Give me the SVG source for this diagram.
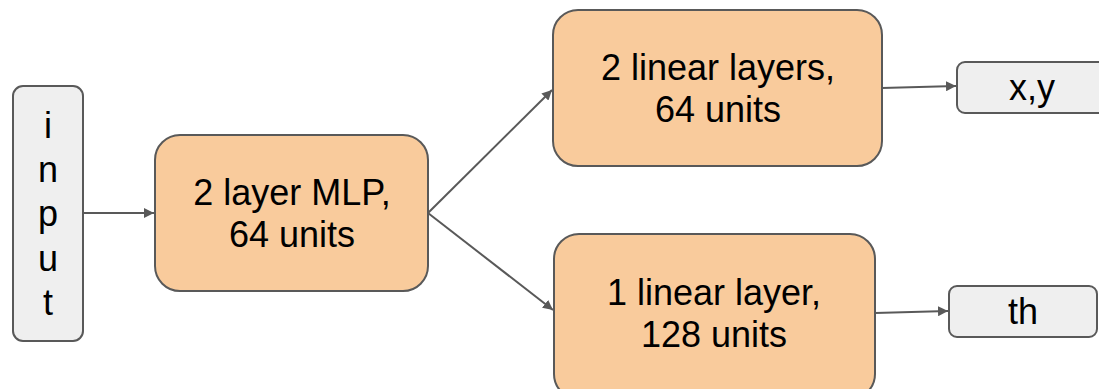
<svg xmlns="http://www.w3.org/2000/svg" width="1099" height="389" viewBox="0 0 1099 389">
  <style>
    .orange { fill: #f9cb9c; stroke: #595959; stroke-width: 2; }
    .grey { fill: #efefef; stroke: #595959; stroke-width: 2; }
    .label { font-family: "Liberation Sans", Arial, sans-serif; font-size: 36px; fill: #000; text-anchor: middle; }
    .edge { stroke: #595959; stroke-width: 2; fill: none; marker-end: url(#arrow); }
  </style>
  <defs>
    <marker id="arrow" viewBox="0 0 10 10" refX="10" refY="5" markerWidth="5" markerHeight="5" orient="auto" markerUnits="strokeWidth">
      <path d="M0,0 L10,5 L0,10 z" fill="#595959"/>
    </marker>
  </defs>
  <rect width="1099" height="389" fill="#ffffff"/>

  <g id="connectors">
    <line class="edge" x1="83" y1="213" x2="154" y2="213"/>
    <line class="edge" x1="428" y1="213" x2="552" y2="90"/>
    <line class="edge" x1="428" y1="213" x2="553" y2="310"/>
    <line class="edge" x1="882" y1="88" x2="956" y2="86"/>
    <line class="edge" x1="875" y1="313" x2="948" y2="311"/>
  </g>

  <g id="input">
    <rect class="grey" x="13" y="86" width="70" height="255" rx="10"/>
    <text class="label" x="48" y="138">i</text>
    <text class="label" x="48" y="182">n</text>
    <text class="label" x="48" y="226">p</text>
    <text class="label" x="48" y="271">u</text>
    <text class="label" x="48" y="315">t</text>
  </g>

  <g id="mlp">
    <rect class="orange" x="155" y="135" width="273" height="156" rx="25"/>
    <text class="label" x="292" y="205">2 layer MLP,</text>
    <text class="label" x="292" y="247">64 units</text>
  </g>

  <g id="linear2">
    <rect class="orange" x="553" y="10" width="329" height="156" rx="25"/>
    <text class="label" x="718" y="80">2 linear layers,</text>
    <text class="label" x="718" y="122">64 units</text>
  </g>

  <g id="linear1">
    <rect class="orange" x="554" y="234" width="321" height="165" rx="25"/>
    <text class="label" x="714" y="305">1 linear layer,</text>
    <text class="label" x="714" y="347">128 units</text>
  </g>

  <g id="xy">
    <rect class="grey" x="957" y="62" width="152" height="51" rx="8"/>
    <text class="label" x="1032" y="100">x,y</text>
  </g>

  <g id="th">
    <rect class="grey" x="949" y="286" width="148" height="51" rx="8"/>
    <text class="label" x="1023" y="324">th</text>
  </g>
</svg>
